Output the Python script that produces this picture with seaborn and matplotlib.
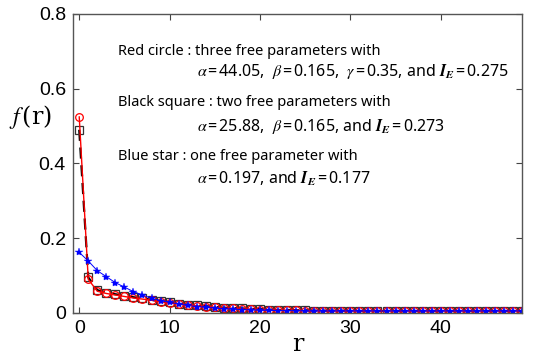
import numpy as np
import pandas as pd
import matplotlib
matplotlib.use("Agg")
import matplotlib.pyplot as plt
import seaborn as sns

r = list(range(0, 50))
red_circle = [0.525, 0.090, 0.058, 0.052, 0.048, 0.044, 0.040, 0.037, 0.034, 0.030,
              0.027, 0.024, 0.021, 0.019, 0.017, 0.015, 0.013, 0.012, 0.011, 0.010,
              0.009, 0.008, 0.008, 0.007, 0.007, 0.006, 0.006, 0.006, 0.005, 0.005,
              0.005, 0.005, 0.005, 0.005, 0.005, 0.005, 0.005, 0.005, 0.005, 0.005,
              0.005, 0.005, 0.005, 0.005, 0.005, 0.005, 0.005, 0.005, 0.005, 0.005]
black_square = [0.490, 0.095, 0.061, 0.054, 0.050, 0.046, 0.042, 0.039, 0.035, 0.031,
                0.028, 0.025, 0.022, 0.020, 0.018, 0.016, 0.014, 0.013, 0.012, 0.011,
                0.010, 0.009, 0.008, 0.008, 0.007, 0.007, 0.006, 0.006, 0.006, 0.006,
                0.005, 0.005, 0.005, 0.005, 0.005, 0.005, 0.005, 0.005, 0.005, 0.005,
                0.005, 0.005, 0.005, 0.005, 0.005, 0.005, 0.005, 0.005, 0.005, 0.005]
blue_star = [0.162, 0.139, 0.113, 0.097, 0.081, 0.069, 0.057, 0.048, 0.039, 0.033,
             0.028, 0.024, 0.020, 0.017, 0.015, 0.013, 0.011, 0.010, 0.009, 0.008,
             0.007, 0.007, 0.006, 0.006, 0.006, 0.005, 0.005, 0.005, 0.005, 0.005,
             0.005, 0.005, 0.005, 0.005, 0.005, 0.005, 0.005, 0.005, 0.005, 0.005,
             0.005, 0.005, 0.005, 0.005, 0.005, 0.005, 0.005, 0.005, 0.005, 0.005]

x_ticks = [0, 10, 20, 30, 40]
y_ticks = [0, 0.2, 0.4, 0.6, 0.8]
y_tick_labels = ["0", "0.2", "0.4", "0.6", "0.8"]

sns.set_style("ticks")
plt.rcParams['font.family'] = ['Liberation Sans', 'DejaVu Sans']
plt.rcParams['mathtext.fontset'] = 'stix'
plt.rcParams['text.color'] = 'black'
plt.rcParams['xtick.color'] = '#444444'
plt.rcParams['ytick.color'] = '#444444'
plt.rcParams['xtick.labelcolor'] = 'black'
plt.rcParams['ytick.labelcolor'] = 'black'

fig = plt.figure(figsize=(5.36, 3.56), dpi=100)
ax = fig.add_axes([0.136, 0.121, 0.838, 0.84])

df = pd.DataFrame({"r": r, "red": red_circle, "black": black_square, "blue": blue_star})

sns.lineplot(data=df, x="r", y="black", ax=ax, color="black", linestyle=(0, (5, 3)),
             linewidth=1.6, marker="s", markersize=5.5, markerfacecolor="none",
             markeredgecolor="#333333", markeredgewidth=0.9)
sns.lineplot(data=df, x="r", y="red", ax=ax, color="red", linewidth=1.0,
             marker="o", markersize=5.5, markerfacecolor="none",
             markeredgecolor="red", markeredgewidth=0.9)
sns.lineplot(data=df, x="r", y="blue", ax=ax, color="blue", linewidth=0.7,
             marker="*", markersize=6, markeredgecolor="blue", markerfacecolor="blue",
             markeredgewidth=0.3)

ax.set_xlim(-0.7, 49)
ax.set_ylim(0, 0.8)
ax.set_xticks(x_ticks)
ax.set_yticks(y_ticks)
ax.set_yticklabels(y_tick_labels)
ax.tick_params(direction="in", top=True, right=True, labelsize=14, length=4, pad=5)
for s in ax.spines.values():
    s.set_color("#555555")
    s.set_linewidth(1.0)

ax.set_xlabel("r", family="DejaVu Serif", fontsize=17, labelpad=-3, color="black")
ax.set_ylabel(r"$f\,$(r)", family="DejaVu Serif", fontsize=17, rotation=0, color="black")
ax.yaxis.set_label_coords(-0.095, 0.61)

fs = 10.5
fm = 11.5
tf = "Noto Sans"
def fx(px):
    return (px - 73) / (522 - 73)
def fy(py):
    return (313 - py) / (313 - 14)

IE = r"$\mathbfit{I}_{\mathbfit{E}}\,$=$\,$"
A = r"$\alpha\,$=$\,$"
B = r"$\beta\,$=$\,$"
G = r"$\gamma\,$=$\,$"
ax.text(fx(118), fy(52), "Red circle : three free parameters with", transform=ax.transAxes,
        fontsize=fs, va="center", family=tf)
ax.text(fx(197), fy(72), A + "44.05,  " + B + "0.165,  " + G + "0.35, and " + IE + "0.275",
        transform=ax.transAxes, fontsize=fm, va="center", family=tf)
ax.text(fx(118), fy(103), "Black square : two free parameters with", transform=ax.transAxes,
        fontsize=fs, va="center", family=tf)
ax.text(fx(197), fy(127), A + "25.88,  " + B + "0.165, and " + IE + "0.273",
        transform=ax.transAxes, fontsize=fm, va="center", family=tf)
ax.text(fx(118), fy(157), "Blue star : one free parameter with", transform=ax.transAxes,
        fontsize=fs, va="center", family=tf)
ax.text(fx(197), fy(179), A + "0.197, and " + IE + "0.177",
        transform=ax.transAxes, fontsize=fm, va="center", family=tf)

fig.savefig("out.png", dpi=100)
